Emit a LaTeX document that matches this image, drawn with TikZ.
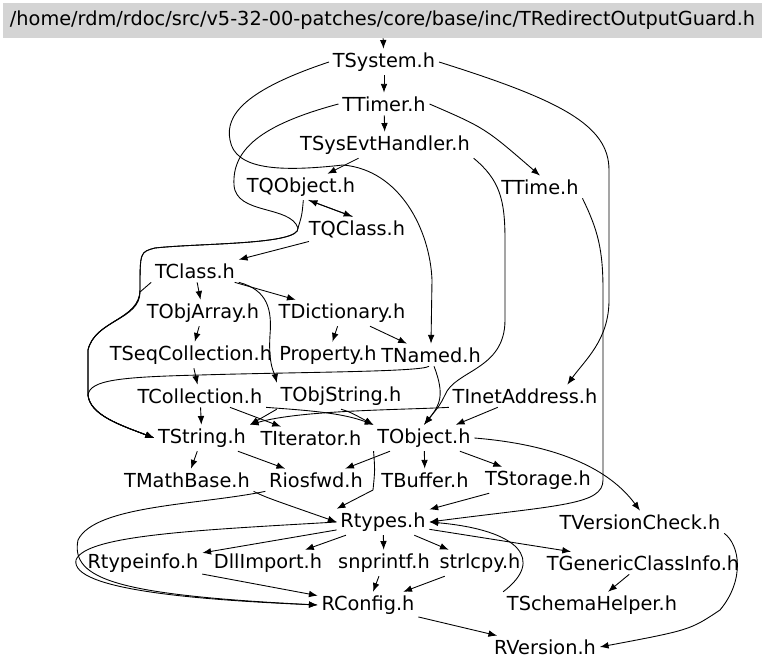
\documentclass[tikz,border=0pt]{standalone}
\usepackage{fontspec}
\usepackage{tikz}
\usetikzlibrary{arrows,arrows.meta}
\newfontfamily\dvs{DejaVu Sans}

\begin{document}
\begin{tikzpicture}[x=0.02cm,y=-0.02cm,>={Latex[length=5pt,width=3.8pt]}]
						\tikzstyle{file}=[inner sep=2pt,font=\dvs\fontsize{11}{13}\selectfont]
						\tikzstyle{rootfile}=[fill=black!17,minimum width=15.18cm,minimum height=0.7cm,inner sep=0pt,font=\dvs\fontsize{11}{13}\selectfont]
						\tikzstyle{dep}=[->,line width=0.5pt]
						\useasboundingbox (0,0) rectangle (768,669);
						\node[rootfile] (1) at (382.5,20.5) {/home/rdm/rdoc/src/v5-32-00-patches/core/base/inc/TRedirectOutputGuard.h};
						\node[file] (2) at (384,62) {TSystem.h};
						\node[file] (3) at (384,104) {TTimer.h};
						\node[file] (4) at (385,145) {TSysEvtHandler.h};
						\node[file] (5) at (301,187) {TQObject.h};
						\node[file] (6) at (540,187) {TTime.h};
						\node[file] (7) at (357,229) {TQClass.h};
						\node[file] (8) at (195,271) {TClass.h};
						\node[file] (9) at (203,313) {TObjArray.h};
						\node[file] (10) at (342,313) {TDictionary.h};
						\node[file] (11) at (191,355) {TSeqCollection.h};
						\node[file] (12) at (328,355) {Property.h};
						\node[file] (13) at (431,355) {TNamed.h};
						\node[file] (14) at (200,396) {TCollection.h};
						\node[file] (15) at (341,396) {TObjString.h};
						\node[file] (16) at (525,396) {TInetAddress.h};
						\node[file] (17) at (202,438) {TString.h};
						\node[file] (18) at (311,438) {TIterator.h};
						\node[file] (19) at (424,438) {TObject.h};
						\node[file] (20) at (187,480) {TMathBase.h};
						\node[file] (21) at (316,480) {Riosfwd.h};
						\node[file] (22) at (425,480) {TBuffer.h};
						\node[file] (23) at (538,480) {TStorage.h};
						\node[file] (24) at (383,522) {Rtypes.h};
						\node[file] (25) at (640,522) {TVersionCheck.h};
						\node[file] (26) at (143,563) {Rtypeinfo.h};
						\node[file] (27) at (268,563) {DllImport.h};
						\node[file] (28) at (384,563) {snprintf.h};
						\node[file] (29) at (480,563) {strlcpy.h};
						\node[file] (30) at (643,563) {TGenericClassInfo.h};
						\node[file] (31) at (368,605) {RConfig.h};
						\node[file] (32) at (592,605) {TSchemaHelper.h};
						\node[file] (33) at (545,647) {RVersion.h};
						\draw[dep] (1) -- (2);
						\draw[dep] (2) -- (3);
						\draw[dep] (2.west) .. controls (245,90) and (225,115) .. (230,140) .. controls (235,170) and (280,172) .. (343,165) .. controls (400,170) and (430,230) .. (432,280) -- (13.north);
						\draw[dep] (2.east) .. controls (560,100) and (609,125) .. (609,170) -- (609,300) .. controls (609,340) and (585,360) .. (16.15);
						\draw[dep] (3) -- (4);
						\draw[dep] (3.east) .. controls (485,128) .. (6.north);
						\draw[dep] (3.west) .. controls (260,125) and (232,150) .. (234,185) .. controls (236,215) and (290,205) .. (298,228) .. controls (300,245) and (200,243) .. (155,248) .. controls (140,252) .. (140,290) .. controls (140,320) and (95,320) .. (88,350) -- (88,395) .. controls (90,415) and (120,425) .. (17.west);
						\draw[dep] (4) -- (5);
						\draw[dep] (4.south east) .. controls (500,180) and (505,200) .. (505,240) -- (505,320) .. controls (505,370) and (455,370) .. (445,395) .. controls (440,405) .. (19.north);
						\draw[dep] (5.-60) -- (7.110);
						\draw[dep] (7.110) -- (5.-60);
						\draw[dep] (5.-80) .. controls (302,215) .. (298,228) .. controls (300,245) and (200,243) .. (155,248) .. controls (140,252) .. (140,290) .. controls (140,320) and (95,320) .. (88,350) -- (88,395) .. controls (90,415) and (120,425) .. (17.west);
						\draw[dep] (6.south east) .. controls (598,230) and (603,250) .. (603,290) -- (603,480) .. controls (603,505) and (560,505) .. (24.east);
						\draw[dep] (7) -- (8);
						\draw[dep] (8) -- (9);
						\draw[dep] (8) -- (10);
						\draw[dep] (8.south east) .. controls (268,290) and (272,310) .. (270,335) .. controls (268,365) and (275,375) .. (15.north west);
						\draw[dep] (8.south west) -- (140,292) .. controls (140,320) and (95,320) .. (88,350) -- (88,395) .. controls (90,415) and (120,425) .. (17.west);
						\draw[dep] (9) -- (11);
						\draw[dep] (10) -- (12);
						\draw[dep] (10) -- (13);
						\draw[dep] (11) -- (14);
						\draw[dep] (13.-100) .. controls (420,372) and (300,372) .. (200,375) .. controls (120,377) and (90,380) .. (88,395) .. controls (90,415) and (120,425) .. (17.west);
						\draw[dep] (13.-75) .. controls (445,395) and (440,405) .. (19.north);
						\draw[dep] (14) -- (17);
						\draw[dep] (14) -- (18);
						\draw[dep] (14.south east) .. controls (300,410) and (340,412) .. (19.north west);
						\draw[dep] (15.south west) -- (17.north east);
						\draw[dep] (15.south) .. controls (350,412) .. (19.north west);
						\draw[dep] (16) -- (19);
						\draw[dep] (16.south west) .. controls (400,410) and (300,410) .. (17.north east);
						\draw[dep] (17) -- (20);
						\draw[dep] (17) -- (21);
						\draw[dep] (19) -- (21);
						\draw[dep] (19.south west) .. controls (375,470) .. (373,490) -- (24.north west);
						\draw[dep] (19) -- (22);
						\draw[dep] (19) -- (23);
						\draw[dep] (19.east) .. controls (560,445) and (610,470) .. (25.north);
						\draw[dep] (20.south east) .. controls (265,497) .. (24.west);
						\draw[dep] (21.south west) .. controls (200,505) and (95,505) .. (78,540) .. controls (70,580) and (120,595) .. (31.west);
						\draw[dep] (23) -- (24);
						\draw[dep] (24.west) .. controls (200,530) and (85,535) .. (76,560) .. controls (70,590) and (200,600) .. (31.west);
						\draw[dep] (24) -- (26);
						\draw[dep] (24) -- (27);
						\draw[dep] (24) -- (28);
						\draw[dep] (24) -- (29);
						\draw[dep] (24) -- (30);
						\draw[dep] (32.north west) .. controls (545,560) and (520,530) .. (24.east);
						\draw[dep] (30) -- (32);
						\draw[dep] (26) -- (31);
						\draw[dep] (28) -- (31);
						\draw[dep] (29) -- (31);
						\draw[dep] (31) -- (33);
						\draw[dep] (25.south east) .. controls (740,545) and (745,580) .. (720,610) .. controls (690,630) .. (33.east);
						\end{tikzpicture}
\end{document}
